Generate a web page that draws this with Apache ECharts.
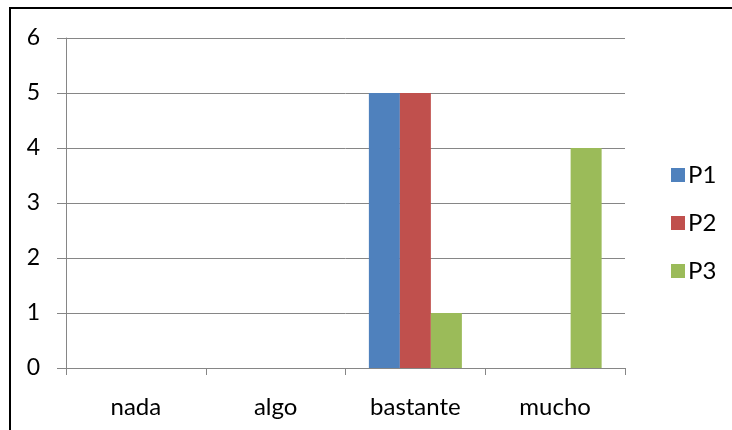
<!DOCTYPE html>
<html>
<head>
<meta charset="utf-8">
<script src="https://cdn.jsdelivr.net/npm/echarts@6/dist/echarts.min.js"></script>
<style>
html,body{margin:0;padding:0;background:#fff;}
#c{width:732px;height:430px;}
</style>
</head>
<body>
<div id="c"></div>
<script>
var categories = ['nada', 'algo', 'bastante', 'mucho'];
var seriesNames = ['P1', 'P2', 'P3'];
var p1 = [0, 0, 5, 0];
var p2 = [0, 0, 5, 0];
var p3 = [0, 0, 1, 4];
var colors = ['#4F81BD', '#C0504D', '#9BBB59'];
var yTicks = [0, 1, 2, 3, 4, 5, 6];

var FONT = 'Lato';
var chart = echarts.init(document.getElementById('c'), null, {renderer: 'canvas'});
var values = [p1, p2, p3];
chart.setOption({
  animation: false,
  backgroundColor: '#fff',
  grid: {left: 66, right: 107, top: 38, bottom: 62},
  legend: {
    orient: 'vertical', left: 666, top: 158,
    itemWidth: 14, itemHeight: 14, itemGap: 24,
    icon: 'rect',
    textStyle: {fontFamily: FONT, fontSize: 24, color: '#000', padding: [0, 0, 0, -2]},
    data: seriesNames
  },
  xAxis: {
    type: 'category', data: categories,
    axisLine: {lineStyle: {color: '#868686', width: 1}},
    axisTick: {show: true, length: 7, lineStyle: {color: '#868686'}},
    axisLabel: {fontFamily: FONT, fontSize: 24, color: '#000', margin: 27}
  },
  yAxis: {
    type: 'value', min: yTicks[0], max: yTicks[yTicks.length - 1], interval: 1,
    axisLine: {show: true, lineStyle: {color: '#868686', width: 1}},
    axisTick: {show: true, length: 9, lineStyle: {color: '#868686'}},
    splitLine: {lineStyle: {color: '#868686', width: 1}},
    axisLabel: {fontFamily: FONT, fontSize: 23, color: '#000', margin: 26}
  },
  series: seriesNames.map(function (n, i) {
    return {
      name: n, type: 'bar', data: values[i],
      barWidth: 31, barGap: '0%',
      itemStyle: {color: colors[i]}
    };
  }),
  graphic: [
    {type: 'line', shape: {x1: 10, y1: 8, x2: 10, y2: 430}, style: {stroke: '#000', lineWidth: 2}},
    {type: 'line', shape: {x1: 9, y1: 8, x2: 732, y2: 8}, style: {stroke: '#000', lineWidth: 2}}
  ]
});
</script>
</body>
</html>
